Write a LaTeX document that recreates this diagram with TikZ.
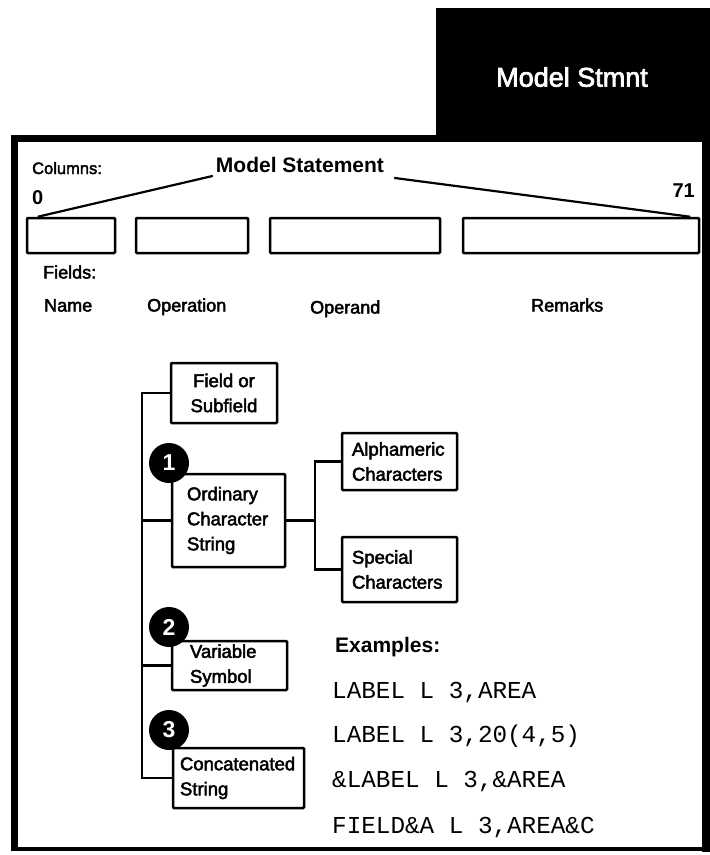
\documentclass[tikz,border=0pt]{standalone}
\usepackage{fontspec}
\setmainfont{Liberation Sans}
\setmonofont{Liberation Mono}
\newfontfamily\medium[FakeBold=2.5]{Liberation Sans}
\begin{document}
\begin{tikzpicture}[x=1pt,y=-1pt,
  fbox/.style={draw, line width=2.5pt, rounded corners=1pt, inner sep=0pt},
  btxt/.style={font=\medium\fontsize{18.5}{25}\selectfont},
  lab/.style={font=\medium\fontsize{18}{20}\selectfont, inner sep=0pt, anchor=base west},
  conn/.style={line width=2.2pt},
  slant/.style={line width=2.2pt},
  num/.style={circle, fill=black, minimum size=40pt, inner sep=0pt, text=white, font=\bfseries\fontsize{23}{23}\selectfont},
  mono/.style={font=\ttfamily\fontsize{24.3}{26}\selectfont, inner sep=0pt, anchor=base west}]
\useasboundingbox (0,0) rectangle (710,855);
% tab and frame
\fill (436,8) rectangle (710,142);
\fill (702,138) rectangle (710,852);
\draw[line width=7pt] (14,851) -- (14,138) -- (437,138);
\draw[line width=3.5pt] (12,849) -- (706,849);
\node[text=white, font=\medium\fontsize{27}{30}\selectfont, inner sep=0pt] (tab) at (572,77) {Model Stmnt};
% header
\node[lab, font=\medium\fontsize{16.5}{18}\selectfont] (cols) at (32,174) {Columns:};
\node[inner sep=0pt, font=\bfseries\fontsize{21}{24}\selectfont] (ms) at (300,165) {Model Statement};
\node[lab, font=\bfseries\fontsize{20}{22}\selectfont] (c0) at (32,204) {0};
\node[inner sep=0pt, anchor=base east, font=\bfseries\fontsize{20}{22}\selectfont] (c71) at (695,197) {71};
\node[fbox, minimum width=88pt, minimum height=35pt] (b1) at (71,235.5) {};
\node[fbox, minimum width=112pt, minimum height=35pt] (b2) at (192,235.5) {};
\node[fbox, minimum width=170pt, minimum height=35pt] (b3) at (355,235.5) {};
\node[fbox, minimum width=236pt, minimum height=35pt] (b4) at (581,235.5) {};
\draw[slant] ([xshift=-3pt,yshift=-3pt]ms.south west) -- ([xshift=12pt]b1.north west);
\draw[slant] ([xshift=10pt,yshift=-5pt]ms.south east) -- ([xshift=-10pt]b4.north east);
\node[lab] (fields) at (43,278.5) {Fields:};
\node[lab] (name) at (44,311.5) {Name};
\node[lab] (oper) at (147,311.5) {Operation};
\node[lab] (opnd) at (310,313.5) {Operand};
\node[lab] (rem) at (531,311.5) {Remarks};
% tree
\node[fbox, btxt, align=center, minimum width=106pt, minimum height=60pt] (field) at (224,393) {Field or\\Subfield};
\node[fbox, btxt, align=left, inner xsep=15pt, text width=83pt, minimum height=93pt] (ord) at (228.5,520.5) {Ordinary\\Character\\String};
\node[fbox, btxt, align=left, inner xsep=10pt, text width=95pt, minimum height=57pt] (alph) at (399.5,461.5) {Alphameric\\Characters};
\node[fbox, btxt, align=left, inner xsep=10pt, text width=95pt, minimum height=65pt] (spec) at (399.5,569.5) {Special\\Characters};
\node[fbox, btxt, align=left, inner xsep=18pt, text width=79pt, minimum height=49pt] (var) at (229.5,665.5) {Variable\\Symbol};
\node[fbox, btxt, align=left, inner xsep=7pt, text width=117pt, minimum height=60pt] (concat) at (238.5,778) {Concatenated\\String};
\coordinate (tk) at (142,393);
\coordinate (br) at (315,520);
\draw[conn] (field.west) -- (field.west -| tk) |- (concat.west);
\draw[conn] (ord.west) -- (ord.west -| tk);
\draw[conn] (var.west) -- (var.west -| tk);
\draw[conn] (ord.east) -- (ord.east -| br);
\draw[conn] (alph.west) -- (alph.west -| br) |- (spec.west);
\node[num] (n1) at (169,463) {1};
\node[num] (n2) at (169,627) {2};
\node[num] (n3) at (169,730) {3};
% examples
\node[lab, font=\bfseries\fontsize{21}{24}\selectfont] (ex) at (335,652.5) {Examples:};
\node[mono] (e1) at (332,698) {LABEL L 3,AREA};
\node[mono] (e2) at (332,742) {LABEL L 3,20(4,5)};
\node[mono] (e3) at (332,787) {\&LABEL L 3,\&AREA};
\node[mono] (e4) at (332,833) {FIELD\&A L 3,AREA\&C};
\end{tikzpicture}
\end{document}
